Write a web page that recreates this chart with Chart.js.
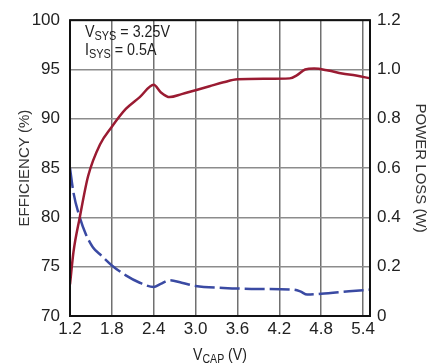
<!DOCTYPE html>
<html>
<head>
<meta charset="utf-8">
<script src="https://cdn.jsdelivr.net/npm/chart.js@4"></script>
<style>
  html, body { margin: 0; padding: 0; background: #fff; }
  #wrap { width: 441px; height: 364px; }
</style>
</head>
<body>
<div id="wrap"><canvas id="chart" width="441" height="364"></canvas></div>
<script>
// data
const effX = [1.2, 1.25, 1.34, 1.46, 1.63, 1.8, 2.0, 2.2, 2.4, 2.5, 2.63, 2.8, 3.0, 3.2, 3.4, 3.6, 4.0, 4.35, 4.45, 4.57, 4.7, 4.9, 5.1, 5.3, 5.5];
const effY = [73.2, 76.5, 80, 84.2, 87.4, 89.2, 91.0, 92.2, 93.45, 92.7, 92.2, 92.5, 92.9, 93.3, 93.7, 94.0, 94.05, 94.1, 94.4, 95.0, 95.1, 94.9, 94.6, 94.4, 94.1];
const lossX = [1.2, 1.25, 1.34, 1.43, 1.53, 1.65, 1.8, 2.0, 2.2, 2.4, 2.5, 2.63, 2.8, 3.0, 3.4, 3.8, 4.4, 4.5, 4.6, 4.8, 5.2, 5.5];
const lossY = [0.6, 0.5, 0.40, 0.33, 0.278, 0.245, 0.205, 0.165, 0.135, 0.118, 0.13, 0.145, 0.135, 0.122, 0.114, 0.11, 0.107, 0.1, 0.087, 0.09, 0.1, 0.107];

const xTicks = [1.2, 1.8, 2.4, 3.0, 3.6, 4.2, 4.8, 5.4];
const effTicks = [70, 75, 80, 85, 90, 95, 100];
const lossTicks = [0, 0.2, 0.4, 0.6, 0.8, 1.0, 1.2];

const FONT = "'Liberation Sans', sans-serif";
const RED = '#9a1b32';
const BLUE = '#3a4aa3';

function pts(xs, ys) {
    return xs.map((x, i) => ({ x: x, y: ys[i] }));
}

// text with a subscript part, squeezed a bit sideways like the condensed original
function subText(ctx, x, y, main, sub, rest, size, subSize, sx) {
    ctx.save();
    ctx.translate(x, y);
    ctx.scale(sx, 1);
    let cx = 0;
    ctx.font = size + 'px ' + FONT;
    ctx.fillText(main, cx, 0);
    cx += ctx.measureText(main).width;
    ctx.font = subSize + 'px ' + FONT;
    ctx.fillText(sub, cx, 3);
    cx += ctx.measureText(sub).width;
    ctx.font = size + 'px ' + FONT;
    ctx.fillText(rest, cx, 0);
    cx += ctx.measureText(rest).width;
    ctx.restore();
    return cx * sx;
}

function subWidth(ctx, main, sub, rest, size, subSize, sx) {
    ctx.font = size + 'px ' + FONT;
    let w = ctx.measureText(main).width + ctx.measureText(rest).width;
    ctx.font = subSize + 'px ' + FONT;
    w += ctx.measureText(sub).width;
    return w * sx;
}

const extras = {
    id: 'extras',
    afterDraw(chart) {
        const ctx = chart.ctx;
        const a = chart.chartArea;
        ctx.save();
        ctx.strokeStyle = '#111';
        ctx.lineWidth = 2;
        ctx.strokeRect(a.left, a.top, a.right - a.left, a.bottom - a.top);
        ctx.fillStyle = '#222';
        ctx.textBaseline = 'alphabetic';
        ctx.textAlign = 'left';
        subText(ctx, 85, 37, 'V', 'SYS', ' = 3.25V', 17, 13, 0.84);
        subText(ctx, 85, 55, 'I', 'SYS', ' = 0.5A', 17, 13, 0.84);
        // x axis title, centred under the plot
        const w = subWidth(ctx, 'V', 'CAP', ' (V)', 16, 12, 0.88);
        subText(ctx, (a.left + a.right) / 2 - w / 2, 360, 'V', 'CAP', ' (V)', 16, 12, 0.88);
        ctx.restore();
    }
};

const ctx = document.getElementById('chart').getContext('2d');
const chart = new Chart(ctx, {
    type: 'line',
    data: {
        datasets: [{
            label: 'Efficiency',
            data: pts(effX, effY),
            yAxisID: 'y',
            borderColor: RED,
            borderWidth: 2.5,
            pointRadius: 0,
            cubicInterpolationMode: 'monotone'
        }, {
            label: 'Power loss',
            data: pts(lossX, lossY),
            yAxisID: 'y2',
            borderColor: BLUE,
            borderWidth: 2.5,
            borderDash: [20, 5],
            pointRadius: 0,
            cubicInterpolationMode: 'monotone'
        }]
    },
    options: {
        responsive: false,
        animation: false,
        layout: { padding: { top: 17, left: 0, right: 0, bottom: 0 } },
        plugins: { legend: { display: false }, tooltip: { enabled: false } },
        scales: {
            x: {
                type: 'linear',
                min: 1.2,
                max: 5.5,
                afterBuildTicks: (s) => { s.ticks = xTicks.map(v => ({ value: v })); },
                afterFit: (s) => { s.height = 48; },
                ticks: {
                    color: '#222',
                    font: { family: FONT, size: 17 },
                    padding: 3,
                    maxRotation: 0,
                    autoSkip: false,
                    callback: (v) => v.toFixed(1)
                },
                grid: { color: '#707070', lineWidth: 1.5, drawTicks: false },
                border: { display: false }
            },
            y: {
                position: 'left',
                min: 70,
                max: 100,
                afterBuildTicks: (s) => { s.ticks = effTicks.map(v => ({ value: v })); },
                afterFit: (s) => { s.width = 70; },
                ticks: {
                    color: '#222',
                    font: { family: FONT, size: 17 },
                    padding: 10
                },
                title: {
                    display: true,
                    text: 'EFFICIENCY (%)',
                    color: '#333',
                    font: { family: FONT, size: 15 },
                    padding: { top: 16, bottom: 4 }
                },
                grid: { color: '#8c8c8c', lineWidth: 1.5, drawTicks: false },
                border: { display: false }
            },
            y2: {
                position: 'right',
                min: 0,
                max: 1.2,
                afterBuildTicks: (s) => { s.ticks = lossTicks.map(v => ({ value: v })); },
                afterFit: (s) => { s.width = 71; },
                ticks: {
                    color: '#222',
                    font: { family: FONT, size: 17 },
                    padding: 7,
                    callback: (v) => v === 0 ? '0' : v.toFixed(1)
                },
                title: {
                    display: true,
                    text: 'POWER LOSS (W)',
                    color: '#333',
                    font: { family: FONT, size: 15 },
                    padding: { top: 12, bottom: 4 }
                },
                grid: { display: false, drawTicks: false },
                border: { display: false }
            }
        }
    },
    plugins: [extras]
});
</script>
</body>
</html>
